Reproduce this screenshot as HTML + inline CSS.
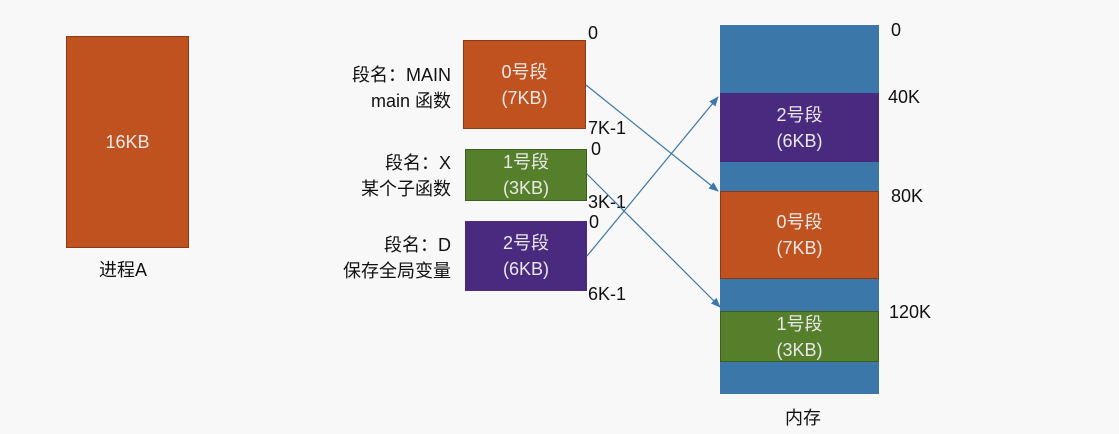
<!DOCTYPE html>
<html><head><meta charset="utf-8"><style>
body{margin:0;width:1119px;height:434px;background:#f8f8f8;position:relative;overflow:hidden;font-family:"Liberation Sans","Noto Sans CJK SC",sans-serif;}
.b{position:absolute;box-sizing:border-box;color:#e8e8e8;text-align:center;display:flex;flex-direction:column;justify-content:center;font-size:18px;line-height:26px}
.o{background:#c0521f;border:1px solid #8a3a16}
.p{background:#4a2a7e}
.g{background:#557f2a;border:1px solid #3d5f1e}
.m{background:#3b77a8}
.t{position:absolute;font-size:18px;color:#111;white-space:nowrap}
.r{text-align:right}
</style></head><body>
<div class="b o" style="left:66px;top:36px;width:123px;height:212px">16KB</div>
<div class="t" style="left:99px;top:256px">进程A</div>

<div class="t r" style="right:668px;top:62px;line-height:26px">段名：MAIN<br>main 函数</div>
<div class="t r" style="right:668px;top:150px;line-height:26px">段名：X<br>某个子函数</div>
<div class="t r" style="right:668px;top:232px;line-height:26px">段名：D<br>保存全局变量</div>

<div class="b o" style="left:463px;top:40px;width:123px;height:89px">0号段<br>(7KB)</div>
<div class="b g" style="left:465px;top:149px;width:122px;height:52px">1号段<br>(3KB)</div>
<div class="b p" style="left:465px;top:221px;width:122px;height:70px">2号段<br>(6KB)</div>

<div class="t" style="left:588px;top:23px">0</div>
<div class="t" style="left:588px;top:118px">7K-1</div>
<div class="t" style="left:591px;top:139px">0</div>
<div class="t" style="left:588px;top:192px">3K-1</div>
<div class="t" style="left:589px;top:212px">0</div>
<div class="t" style="left:588px;top:284px">6K-1</div>

<div class="b m" style="left:720px;top:25px;width:159px;height:369px"></div>
<div class="b p" style="left:720px;top:93px;width:159px;height:69px">2号段<br>(6KB)</div>
<div class="b o" style="left:720px;top:191px;width:159px;height:88px">0号段<br>(7KB)</div>
<div class="b g" style="left:720px;top:311px;width:159px;height:51px">1号段<br>(3KB)</div>

<div class="t" style="left:891px;top:20px">0</div>
<div class="t" style="left:888px;top:87px">40K</div>
<div class="t" style="left:891px;top:186px">80K</div>
<div class="t" style="left:889px;top:302px">120K</div>
<div class="t" style="left:785px;top:404px">内存</div>

<svg width="1119" height="434" style="position:absolute;left:0;top:0">
<defs><marker id="a" markerWidth="10" markerHeight="8" refX="9" refY="4" orient="auto" markerUnits="userSpaceOnUse"><path d="M0,0 L10,4 L0,8 z" fill="#3b77a8"/></marker></defs>
<g stroke="#3b77a8" stroke-width="1.2" fill="none" marker-end="url(#a)">
<line x1="586" y1="85" x2="718" y2="191"/>
<line x1="587" y1="174" x2="720" y2="307"/>
<line x1="587" y1="256" x2="718" y2="97"/>
</g></svg>
</body></html>
